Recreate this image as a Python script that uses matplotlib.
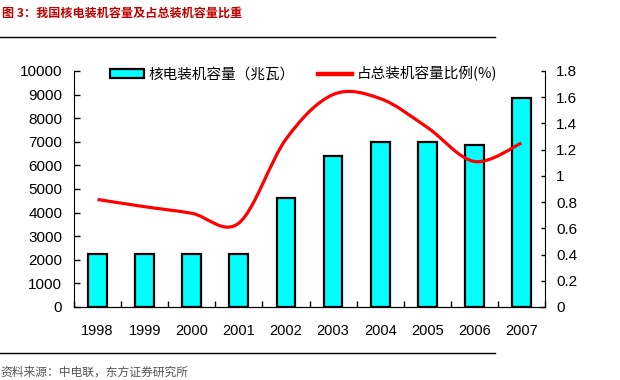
import matplotlib
matplotlib.use("Agg")
import matplotlib.pyplot as plt
from matplotlib.path import Path
from matplotlib.patches import PathPatch
from matplotlib.lines import Line2D
from matplotlib.patches import Patch
import numpy as np

plt.rcParams['font.family'] = ['Liberation Sans', 'Noto Sans CJK SC', 'DejaVu Sans']

# data
years = ['1998', '1999', '2000', '2001', '2002', '2003', '2004', '2005', '2006', '2007']
capacity = [2250, 2250, 2250, 2250, 4600, 6400, 7000, 7000, 6860, 8850]       # MW
share = [0.82, 0.765, 0.715, 0.64, 1.28, 1.62, 1.59, 1.37, 1.11, 1.25]       # %

title = '图 3：我国核电装机容量及占总装机容量比重'
source = '资料来源：中电联，东方证券研究所'
bar_label = '核电装机容量（兆瓦）'
line_label = '占总装机容量比例(%)'

cjk = ['Noto Sans CJK SC', 'DejaVu Sans']

fig = plt.figure(figsize=(6.2, 3.8), dpi=100)
ax = fig.add_axes([74 / 620, 73 / 380, 471 / 620, 236 / 380])

x = np.arange(len(years))
ax.bar(x, capacity, width=0.4, color='#00FFFF', edgecolor='black', linewidth=1.6, zorder=2)
ax.set_xlim(-0.5, len(years) - 0.5)
ax.set_ylim(0, 10000)
ax.set_yticks(range(0, 10001, 1000))
ax.set_xticks(x)
ax.set_xticklabels(years)
ax.set_xticks(np.arange(-0.5, len(years)), minor=True)
ax.tick_params(axis='x', which='major', length=0, pad=12, labelsize=10.5)
ax.tick_params(axis='x', which='minor', direction='in', length=4, width=1)
ax.tick_params(axis='y', direction='in', length=4.5, width=1, pad=8.5, labelsize=11)
ax.spines['top'].set_visible(False)
ax.spines['right'].set_visible(False)

ax2 = ax.twinx()
ax2.set_ylim(0, 1.8)
ax2.set_yticks([0, 0.2, 0.4, 0.6, 0.8, 1, 1.2, 1.4, 1.6, 1.8])
ax2.set_yticklabels(['0', '0.2', '0.4', '0.6', '0.8', '1', '1.2', '1.4', '1.6', '1.8'])
ax2.tick_params(axis='y', direction='in', length=3, width=1, pad=8, labelsize=11)
ax2.spines['top'].set_visible(False)
ax2.spines['left'].set_visible(False)

# smoothed line (Excel-style) through the share values
pts = list(zip(x, share))
verts = [pts[0]]
codes = [Path.MOVETO]
for i in range(len(pts) - 1):
    p0 = pts[i - 1] if i > 0 else pts[i]
    p1 = pts[i]
    p2 = pts[i + 1]
    p3 = pts[i + 2] if i + 2 < len(pts) else pts[i + 1]
    c1 = (p1[0] + (p2[0] - p0[0]) / 6, p1[1] + (p2[1] - p0[1]) / 6)
    c2 = (p2[0] - (p3[0] - p1[0]) / 6, p2[1] - (p3[1] - p1[1]) / 6)
    verts += [c1, c2, p2]
    codes += [Path.CURVE4] * 3
ax2.add_patch(PathPatch(Path(verts, codes), facecolor='none', edgecolor='#FF0000',
                        linewidth=2.3, zorder=3))

handles = [Patch(facecolor='#00FFFF', edgecolor='black', linewidth=1.6, label=bar_label),
           Line2D([], [], color='#FF0000', linewidth=3.2, label=line_label)]
fig.legend(handles=handles, loc='center left', bbox_to_anchor=(110 / 620, 1 - 74 / 380),
           ncol=2, frameon=False, prop={'family': cjk, 'size': 10.5},
           handlelength=2.3, handleheight=0.6, handletextpad=0.35, columnspacing=1.6,
           borderaxespad=0, borderpad=0)

fig.text(2 / 620, 1 - 13 / 380, title, color='#C00000', fontsize=8.7, fontweight='bold',
         family=cjk, va='center', ha='left')
fig.add_artist(Line2D([0, 495 / 620], [1 - 37 / 380] * 2, color='black', linewidth=1))
fig.add_artist(Line2D([0, 495 / 620], [1 - 353 / 380] * 2, color='black', linewidth=1))
fig.text(0, 1 - 366 / 380, source, color='#555555', fontsize=8.5, family=cjk,
         va='top', ha='left')

fig.savefig('out.png', dpi=100)
